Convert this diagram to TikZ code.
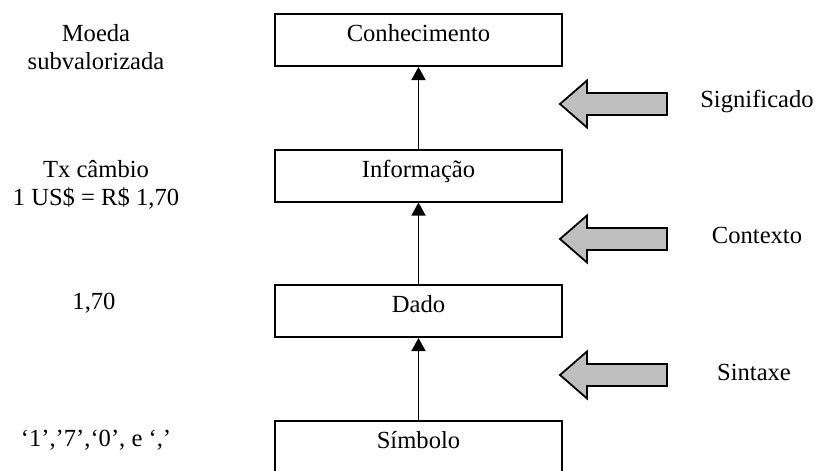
\documentclass[tikz,border=0pt]{standalone}
\usepackage{fontspec}
\setmainfont{Liberation Serif}
\usetikzlibrary{arrows.meta}

\tikzset{
  levelbox/.style={draw, line width=1pt, minimum width=143.5pt, minimum height=26pt,
    inner sep=0pt, text height=9pt, text depth=7.5pt,
    font=\fontsize{12.3}{14}\selectfont},
  sidetext/.style={align=center, inner sep=0pt, font=\fontsize{12.3}{14}\selectfont},
  uparrow/.style={line width=0.7pt, -{Triangle[length=6.5pt,width=7pt]}},
  pics/blockarrow/.style={code={
    \draw[line width=0.9pt, fill=black!25, line join=miter]
      (0,0) -- (27,-23.5) -- (27,-11) -- (107,-11) -- (107,11) -- (27,11) -- (27,23.5) -- cycle;
  }}
}

\begin{document}
\begin{tikzpicture}[x=0.5pt, y=-0.5pt]
  \useasboundingbox[clip] (0,0) rectangle (815,471);

  % the four levels
  \node[levelbox] (con) at (418.5,40)  {Conhecimento};
  \node[levelbox] (inf) at (418.5,175.5) {Informação};
  \node[levelbox] (dad) at (418.5,311) {Dado};
  \node[levelbox] (sim) at (418.5,446.5) {Símbolo};

  % upward transitions
  \draw[uparrow] (sim.north) -- (dad.south);
  \draw[uparrow] (dad.north) -- (inf.south);
  \draw[uparrow] (inf.north) -- (con.south);

  % what each transition adds
  \pic at (560,104) {blockarrow};
  \pic at (560,239) {blockarrow};
  \pic at (560,375) {blockarrow};
  \node[sidetext] (sig) at (757,101) {Significado};
  \node[sidetext] (ctx) at (757,235.5) {Contexto};
  \node[sidetext] (sin) at (754,372) {Sintaxe};

  % examples on the left
  \node[sidetext] (ex4) at (96,47) {Moeda\\subvalorizada};
  \node[sidetext] (ex3) at (96,184.5) {Tx câmbio\\1 US\$ = R\$ 1,70};
  \node[sidetext] (ex2) at (94,303.5) {1,70};
  \node[sidetext] (ex1) at (96,440) {‘1’,’7’,‘0’, e ‘,’};
\end{tikzpicture}
\end{document}
